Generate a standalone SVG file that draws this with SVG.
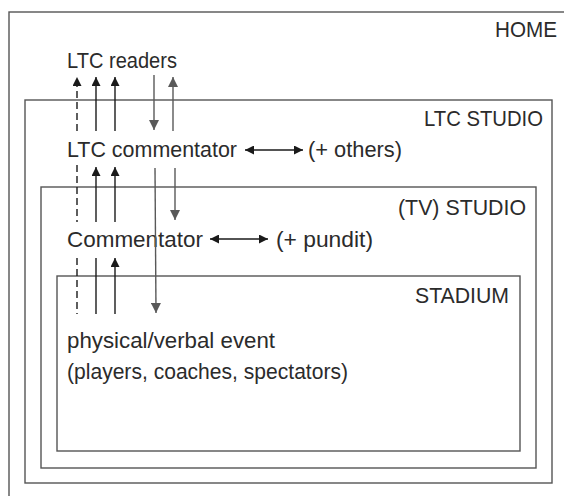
<svg xmlns="http://www.w3.org/2000/svg" width="564" height="496" viewBox="0 0 564 496">
<defs>
<marker id="hb" viewBox="0 0 10 10" refX="10" refY="5" markerWidth="9" markerHeight="9" markerUnits="userSpaceOnUse" orient="auto-start-reverse"><path d="M0,0 L10,5 L0,10 z" fill="#1a1a1a"/></marker>
<marker id="hg" viewBox="0 0 10 10" refX="10" refY="5" markerWidth="10" markerHeight="10" markerUnits="userSpaceOnUse" orient="auto-start-reverse"><path d="M0,0 L10,5 L0,10 z" fill="#595959"/></marker>
</defs>
<style>
.box{fill:none;stroke:#555;stroke-width:1.4}
.t{font-family:"Liberation Sans",Arial,sans-serif;font-size:21.5px;fill:#2b2b2b}
.r{text-anchor:end}
.b{stroke:#1a1a1a;stroke-width:1.4;fill:none}
.g{stroke:#595959;stroke-width:1.4;fill:none}
.d{stroke-dasharray:7 4}
.ab{marker-end:url(#hb)}
.ag{marker-end:url(#hg)}
</style>
<rect width="564" height="496" fill="#fff"/>
<g id="home"><rect class="box" x="9" y="12" width="560" height="492"/><text class="t r" x="557" y="37" textLength="62" lengthAdjust="spacingAndGlyphs">HOME</text></g>
<g id="ltc-studio"><rect class="box" x="25" y="100" width="527" height="383"/><text class="t r" x="543" y="126" textLength="119" lengthAdjust="spacingAndGlyphs">LTC STUDIO</text></g>
<g id="tv-studio"><rect class="box" x="41" y="187" width="495" height="281"/><text class="t r" x="526" y="215" textLength="128" lengthAdjust="spacingAndGlyphs">(TV) STUDIO</text></g>
<g id="stadium"><rect class="box" x="57" y="276" width="463" height="175"/><text class="t r" x="509" y="303" textLength="94" lengthAdjust="spacingAndGlyphs">STADIUM</text></g>
<g id="ltc-readers"><text class="t" x="67" y="68" textLength="110" lengthAdjust="spacingAndGlyphs">LTC readers</text></g>
<g id="ltc-commentator"><text class="t" x="67" y="157" textLength="170" lengthAdjust="spacingAndGlyphs">LTC commentator</text></g>
<g id="others"><text class="t" x="308" y="157" textLength="94" lengthAdjust="spacingAndGlyphs">(+ others)</text></g>
<g id="commentator"><text class="t" x="67" y="247" textLength="136" lengthAdjust="spacingAndGlyphs">Commentator</text></g>
<g id="pundit"><text class="t" x="276" y="247" textLength="97" lengthAdjust="spacingAndGlyphs">(+ pundit)</text></g>
<g id="event"><text class="t" x="67" y="348" textLength="208" lengthAdjust="spacingAndGlyphs">physical/verbal event</text><text class="t" x="67" y="379" textLength="281" lengthAdjust="spacingAndGlyphs">(players, coaches, spectators)</text></g>
<g id="connectors">
<line class="b d ab" x1="77" y1="131" x2="77" y2="77"/>
<line class="b ab" x1="96" y1="131" x2="96" y2="77"/>
<line class="b ab" x1="115" y1="131" x2="115" y2="77"/>
<line class="g ag" x1="154" y1="75" x2="154" y2="130"/>
<line class="g ag" x1="173" y1="131" x2="173" y2="77"/>
<line class="b" x1="245" y1="150" x2="303" y2="150" marker-start="url(#hb)" marker-end="url(#hb)"/>
<line class="b d" x1="77" y1="165" x2="77" y2="222"/>
<line class="b ab" x1="96" y1="222" x2="96" y2="167"/>
<line class="b ab" x1="115" y1="222" x2="115" y2="167"/>
<line class="g ag" x1="155" y1="168" x2="156" y2="313"/>
<line class="g ag" x1="175" y1="168" x2="175" y2="220"/>
<line class="b" x1="210" y1="239" x2="268" y2="239" marker-start="url(#hb)" marker-end="url(#hb)"/>
<line class="b d" x1="77" y1="258" x2="77" y2="314"/>
<line class="b" x1="96" y1="258" x2="96" y2="314"/>
<line class="b ab" x1="115" y1="314" x2="115" y2="258"/>
</g>
</svg>
